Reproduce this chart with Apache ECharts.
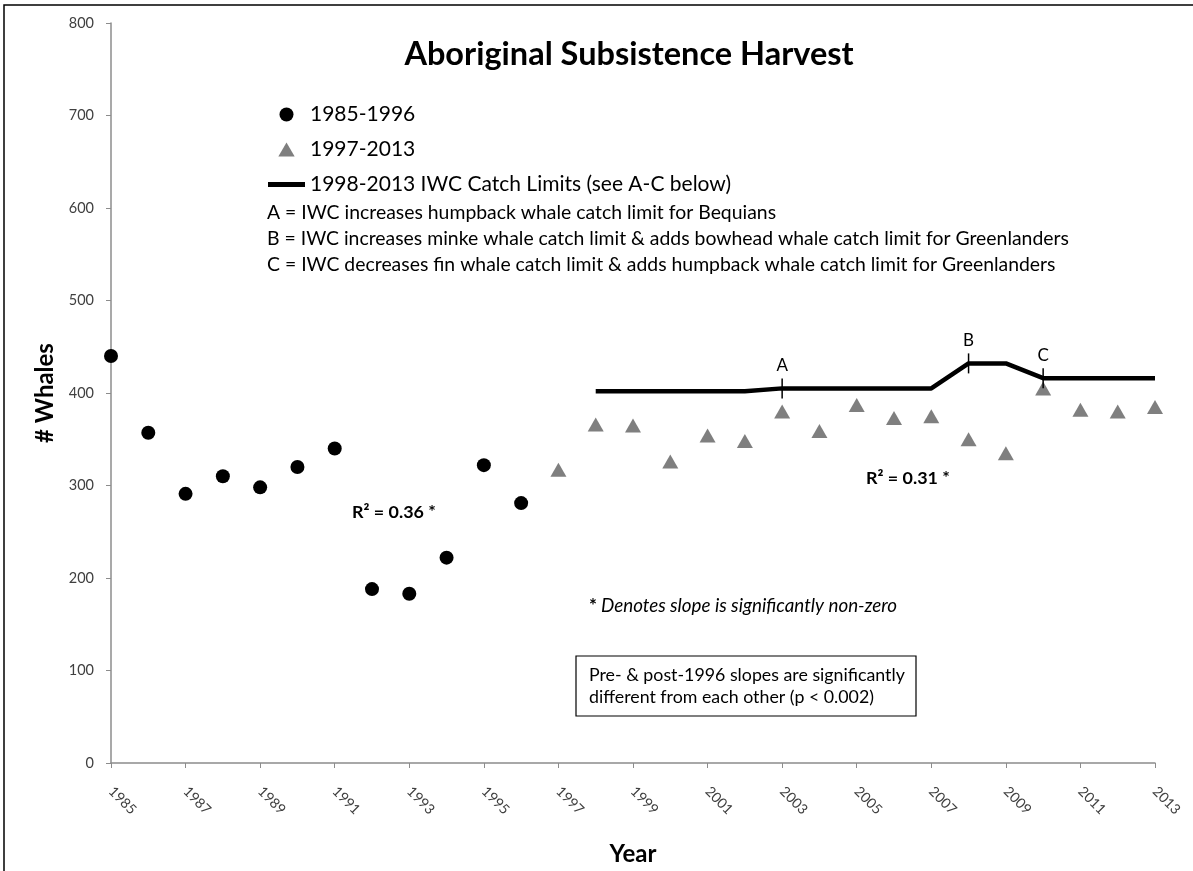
<!DOCTYPE html>
<html>
<head>
<meta charset="utf-8">
<script src="https://cdn.jsdelivr.net/npm/echarts@6/dist/echarts.min.js"></script>
<style>
html,body{margin:0;padding:0;background:#fff;}
#c{width:1193px;height:871px;}
</style>
</head>
<body>
<div id="c"></div>
<script>
// ---- data ----
const years = ['1985','1986','1987','1988','1989','1990','1991','1992','1993','1994','1995','1996','1997','1998','1999','2000','2001','2002','2003','2004','2005','2006','2007','2008','2009','2010','2011','2012','2013'];
const earlyYears = ['1985','1986','1987','1988','1989','1990','1991','1992','1993','1994','1995','1996'];
const earlyHarvest = [440,357,291,310,298,320,340,188,183,222,322,281];
const lateYears = ['1997','1998','1999','2000','2001','2002','2003','2004','2005','2006','2007','2008','2009','2010','2011','2012','2013'];
const lateHarvest = [317,366,365,326,354,348,380,359,387,373,375,350,335,405,382,380,385];
const limitYears = ['1998','1999','2000','2001','2002','2003','2004','2005','2006','2007','2008','2009','2010','2011','2012','2013'];
const catchLimits = [402,402,402,402,402,405,405,405,405,405,432,432,416,416,416,416];
const eventYears = ['2003','2008','2010'];
const eventLabels = ['A','B','C'];
const yMin = 0, yMax = 800, yStep = 100;

const seriesNames = ['1985-1996','1997-2013','1998-2013 IWC Catch Limits (see A-C below)'];
const titleText = 'Aboriginal Subsistence Harvest';
const noteLines = [
  'A = IWC increases humpback whale catch limit for Bequians',
  'B = IWC increases minke whale catch limit & adds bowhead whale catch limit for Greenlanders',
  'C = IWC decreases fin whale catch limit & adds humpback whale catch limit for Greenlanders'
];
const r2Early = 'R² = 0.36 *';
const r2Late = 'R² = 0.31 *';
const denoteText = 'Denotes slope is significantly non-zero';
const boxLines = ['Pre- & post-1996 slopes are significantly','different from each other (p < 0.002)'];

// ---- build ----
const F = 'Lato';
const limitMap = {};
limitYears.forEach((y,i)=>{limitMap[y]=catchLimits[i];});
const lineData = years.map(y => (y in limitMap) ? limitMap[y] : null);
const eventData = eventYears.map(y => [y, limitMap[y]]);
const everyOther = (idx) => idx % 2 === 0;

const chart = echarts.init(document.getElementById('c'), null, {renderer:'canvas'});
chart.setOption({
  animation: false,
  backgroundColor: '#fff',
  textStyle: {fontFamily: F},
  grid: {left: 111, right: 38, top: 23, bottom: 97, containLabel: false},
  legend: {
    data: [
      {name: seriesNames[0], icon: 'circle'},
      {name: seriesNames[1], icon: 'path://M0,12L7,0L14,12Z'},
      {name: seriesNames[2], icon: 'path://M0,0H37V5H0Z'}
    ],
    orient: 'vertical',
    left: 263, top: 99,
    itemWidth: 37, itemHeight: 14, itemGap: 14,
    textStyle: {fontFamily: F, fontSize: 21, color: '#000'},
    selectedMode: false
  },
  xAxis: {
    type: 'category',
    data: years,
    boundaryGap: false,
    name: 'Year',
    nameLocation: 'middle',
    nameGap: 79,
    nameTextStyle: {fontFamily: F, fontSize: 24, fontWeight: 'bold', color: '#000'},
    axisLine: {lineStyle: {color: '#8c8c8c', width: 1.5}},
    axisTick: {interval: everyOther, length: 5, lineStyle: {color: '#8c8c8c'}},
    axisLabel: {interval: everyOther, rotate: -45, margin: 26, fontFamily: F, fontSize: 14, color: '#404040'},
    splitLine: {show: false}
  },
  yAxis: {
    type: 'value',
    min: yMin, max: yMax, interval: yStep,
    name: '# Whales',
    nameLocation: 'middle',
    nameGap: 54,
    nameTextStyle: {fontFamily: F, fontSize: 24, fontWeight: 'bold', color: '#000'},
    axisLine: {show: true, lineStyle: {color: '#8c8c8c', width: 1.5}},
    axisTick: {show: true, length: 5, lineStyle: {color: '#8c8c8c'}},
    axisLabel: {margin: 17, fontFamily: F, fontSize: 14.5, color: '#404040'},
    splitLine: {show: false}
  },
  series: [
    {
      name: seriesNames[0], type: 'scatter',
      symbol: 'circle', symbolSize: 14,
      itemStyle: {color: '#000', opacity: 1},
      data: earlyYears.map((y,i)=>[y, earlyHarvest[i]])
    },
    {
      name: seriesNames[1], type: 'scatter',
      symbol: 'triangle', symbolSize: [16,14],
      itemStyle: {color: '#7f7f7f', opacity: 1},
      data: lateYears.map((y,i)=>[y, lateHarvest[i]])
    },
    {
      name: seriesNames[2], type: 'line',
      symbol: 'none', connectNulls: false,
      lineStyle: {color: '#000', width: 4.5},
      itemStyle: {color: '#000'},
      data: lineData, z: 3
    },
    {
      name: 'events', type: 'scatter',
      symbol: 'rect', symbolSize: [1.5, 20],
      itemStyle: {color: '#000', opacity: 1},
      label: {
        show: true, position: 'top', distance: 4,
        formatter: (p) => eventLabels[p.dataIndex],
        fontFamily: F, fontSize: 17, color: '#000'
      },
      data: eventData, z: 4
    }
  ],
  graphic: [
    {type:'polyline', shape:{points:[[4,871],[4,5],[1193,5]]}, style:{stroke:'#000', lineWidth:1.5, fill:null}},
    {type:'text', x: 629, y: 55, style:{text: titleText, font: 'bold 32.5px Lato', fill:'#000', textAlign:'center', textVerticalAlign:'middle'}},
    {type:'text', x: 267, y: 213, style:{text: noteLines[0], font: '19.4px Lato', fill:'#000', textVerticalAlign:'middle'}},
    {type:'text', x: 267, y: 239, style:{text: noteLines[1], font: '19.4px Lato', fill:'#000', textVerticalAlign:'middle'}},
    {type:'text', x: 267, y: 265, style:{text: noteLines[2], font: '19.4px Lato', fill:'#000', textVerticalAlign:'middle'}},
    {type:'text', x: 352, y: 512, style:{text: r2Early, font: 'bold 17.9px Lato', fill:'#000', textVerticalAlign:'middle'}},
    {type:'text', x: 866, y: 478, style:{text: r2Late, font: 'bold 17.9px Lato', fill:'#000', textVerticalAlign:'middle'}},
    {type:'text', x: 589, y: 606, style:{text: '*', font: 'bold 18.8px Lato', fill:'#000', textVerticalAlign:'middle'}},
    {type:'text', x: 601, y: 606, style:{text: denoteText, font: 'italic 18.8px Lato', fill:'#000', textVerticalAlign:'middle'}},
    {type:'rect', shape:{x:576, y:656, width:340, height:60}, style:{stroke:'#000', lineWidth:1.2, fill:'#fff'}},
    {type:'text', x: 589, y: 675, style:{text: boxLines[0], font: '17.8px Lato', fill:'#000', textVerticalAlign:'middle'}},
    {type:'text', x: 589, y: 697, style:{text: boxLines[1], font: '17.8px Lato', fill:'#000', textVerticalAlign:'middle'}}
  ]
});
</script>
</body>
</html>
